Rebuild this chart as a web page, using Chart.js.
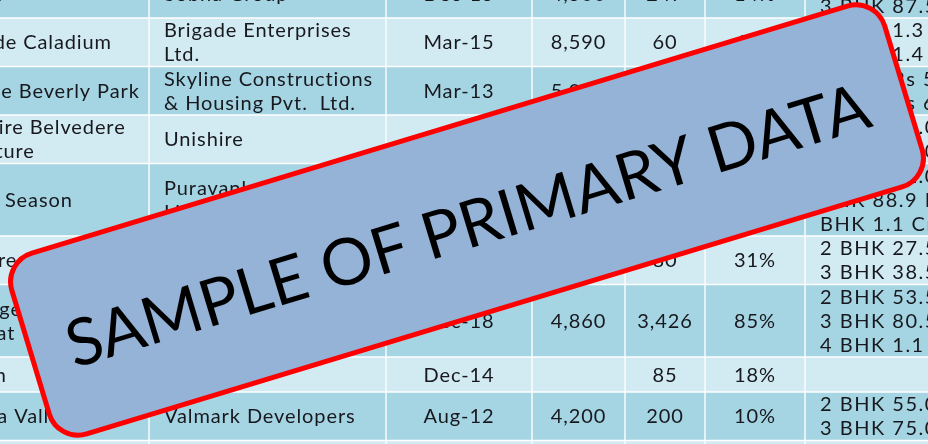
<!DOCTYPE html>
<html>
<head>
<meta charset="utf-8">
<script src="https://cdn.jsdelivr.net/npm/chart.js@4.4.1/dist/chart.umd.min.js"></script>
<style>
  html, body { margin: 0; padding: 0; background: #fff; }
  #wrap { width: 928px; height: 444px; position: relative; overflow: hidden; }
</style>
</head>
<body>
<div id="wrap"><canvas id="tableChart"></canvas></div>
<script>
// table content, one array per column, rows top to bottom
const projects = ['Sobha', 'Brigade Caladium', 'Skyline Beverly Park', 'Unishire Belvedere\nSignature',
  'Purva Season', 'Sky Crest', 'Prestige Lakeside\nHabitat', 'Nitesh', 'Regina Valley', ''];
const developers = ['Sobha Group', 'Brigade Enterprises\nLtd.', 'Skyline Constructions\n& Housing Pvt.  Ltd.', 'Unishire',
  'Puravankara\nLimited', 'Sky Builders', 'Prestige Estates\nProjects Ltd.', 'Nitesh', 'Valmark Developers', ''];
const possession = ['Dec-15', 'Mar-15', 'Mar-13', 'Jun-14', 'Dec-16', 'Sep-15', 'Dec-18', 'Dec-14', 'Aug-12', ''];
const totalUnits = ['4,500', '8,590', '5,040', '1,200', '2,800', '1,680', '4,860', '', '4,200', ''];
const unsoldUnits = ['247', '60', '300', '150', '600', '80', '3,426', '85', '200', ''];
const unsoldShare = ['14%', '7%', '6%', '13%', '21%', '31%', '85%', '18%', '10%', ''];
const priceRange = ['2 BHK 62.5 L\n3 BHK 87.5 L', '3 BHK 1.3 Cr\n4 BHK 1.4 Cr', '2 BHK Rs 51.0 L\n3 BHK Rs 65.0 L',
  '2 BHK 45.0 L\n3 BHK 72.0 L', '2 BHK 62.0 L - 3\nBHK 88.9 L - 4\nBHK 1.1 Cr', '2 BHK 27.5 L\n3 BHK 38.5 L',
  '2 BHK 53.5 L\n3 BHK 80.5 L\n4 BHK 1.1 Cr', '', '2 BHK 55.0 L\n3 BHK 75.0 L', ''];
const stampText = 'SAMPLE OF PRIMARY DATA';

const columns = [projects, developers, possession, totalUnits, unsoldUnits, unsoldShare, priceRange];

// layout
const colWidths = [220, 237, 146, 93, 80, 100, 160];
const colAlign = ['left', 'left', 'center', 'center', 'center', 'center', 'left'];
const colSpacing = [0.9, 0.9, 0.9, 0.9, 0.9, 0.9, 1.5];
const firstColLeft = -71;
const lineHeight = 24;
const minRowHeight = 35;
const hiddenTop = 30.5; // part of the first row above the window
const darkBand = '#A5D5E2';
const lightBand = '#D2EAF1';

const rowLines = projects.map((_, r) => Math.max(...columns.map(c => c[r] ? c[r].split('\n').length : 1)));
const rowHeights = rowLines.map(n => Math.max(n * lineHeight + 0.5, minRowHeight));
const rowTops = [];
let acc = 0;
rowHeights.forEach(h => { rowTops.push(acc); acc += h; });

const colLefts = [];
let left = firstColLeft;
colWidths.forEach(w => { colLefts.push(left); left += w; });

const datasets = columns.map((col, c) => ({
  label: 'col' + c,
  data: col.map((_, r) => ({ x: colLefts[c] + colWidths[c] / 2, y: [rowTops[r], rowTops[r] + rowHeights[r]] })),
  backgroundColor: col.map((_, r) => r % 2 === 0 ? darkBand : lightBand),
  borderColor: '#FFFFFF',
  borderWidth: 1,
  borderSkipped: false,
  barThickness: colWidths[c],
  grouped: false
}));

// writes each cell's text inside its bar
const cellText = {
  id: 'cellText',
  afterDatasetsDraw(chart) {
    const ctx = chart.ctx;
    ctx.save();
    ctx.font = '20px Lato';
    ctx.fillStyle = '#18181f';
    ctx.textBaseline = 'alphabetic';
    const capH = ctx.measureText('H').actualBoundingBoxAscent;
    chart.data.datasets.forEach((ds, c) => {
      ctx.letterSpacing = colSpacing[c] + 'px';
      chart.getDatasetMeta(c).data.forEach((bar, r) => {
        const text = columns[c][r];
        if (!text) return;
        const lines = text.split('\n');
        const p = bar.getProps(['x', 'y', 'base', 'width'], true);
        const midY = (p.y + p.base) / 2;
        ctx.textAlign = colAlign[c];
        const tx = colAlign[c] === 'left' ? p.x - p.width / 2 + 15 : p.x;
        lines.forEach((line, k) => {
          ctx.fillText(line, tx, midY + (k - (lines.length - 1) / 2) * lineHeight + capH / 2);
        });
      });
    });
    ctx.restore();
  }
};

// the rotated stamp over the table
const stamp = {
  id: 'stamp',
  afterDraw(chart, args, opts) {
    const ctx = chart.ctx;
    ctx.save();
    ctx.translate(opts.cx, opts.cy);
    ctx.rotate(opts.angle * Math.PI / 180);
    ctx.beginPath();
    ctx.roundRect(-opts.w / 2, -opts.h / 2, opts.w, opts.h, opts.radius);
    ctx.fillStyle = '#95B3D7';
    ctx.fill();
    ctx.lineWidth = 5;
    ctx.strokeStyle = '#FF0000';
    ctx.stroke();
    ctx.font = '100px Lato';
    const size = 100 * opts.textWidth / ctx.measureText(stampText).width;
    ctx.font = size.toFixed(1) + 'px Lato';
    const capH = ctx.measureText('S').actualBoundingBoxAscent;
    ctx.fillStyle = '#000000';
    ctx.textAlign = 'center';
    ctx.textBaseline = 'alphabetic';
    ctx.fillText(stampText, -1, capH / 2 + 4);
    ctx.restore();
  }
};

new Chart(document.getElementById('tableChart'), {
  type: 'bar',
  data: { datasets: datasets },
  options: {
    responsive: true,
    maintainAspectRatio: false,
    animation: false,
    events: [],
    layout: { padding: 0 },
    plugins: {
      legend: { display: false },
      tooltip: { enabled: false },
      stamp: { cx: 467, cy: 220, w: 912, h: 189, radius: 30, angle: -16.85, textWidth: 836 }
    },
    scales: {
      x: { type: 'linear', display: false, min: 0, max: 928, offset: false },
      y: { type: 'linear', display: false, reverse: true, min: hiddenTop, max: hiddenTop + 444 }
    }
  },
  plugins: [cellText, stamp]
});
</script>
</body>
</html>
